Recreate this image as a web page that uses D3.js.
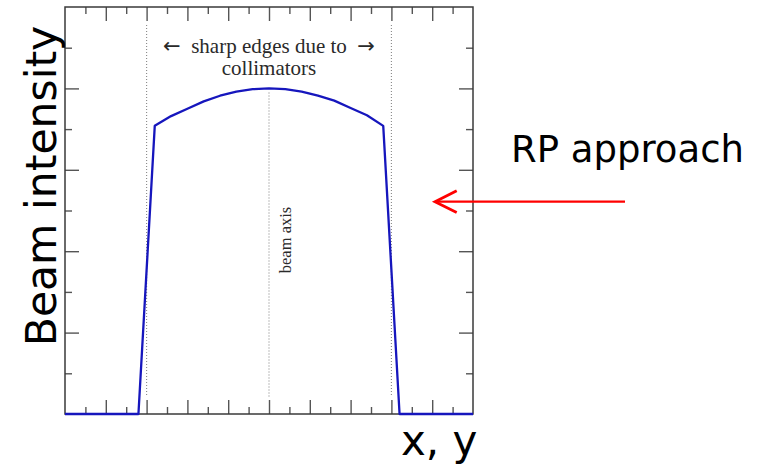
<!DOCTYPE html>
<html>
<head>
<meta charset="utf-8">
<script src="https://cdn.jsdelivr.net/npm/d3@7"></script>
<style>
  html, body { margin: 0; padding: 0; background: #fff; }
  svg { display: block; }
</style>
</head>
<body>
<svg id="chart" width="762" height="464"></svg>
<script>
// Transverse beam profile: flat top shaped by the beam, sharp edges cut by collimators.
const profileX = [-5, -3.2, -2.8, -2.4, -2.0, -1.6, -1.2, -0.8, -0.4, 0, 0.4, 0.8, 1.2, 1.6, 2.0, 2.4, 2.8, 3.2, 5];
const profileY = [0, 0, 3.54, 3.66, 3.75, 3.84, 3.91, 3.96, 3.99, 4.0, 3.99, 3.96, 3.91, 3.85, 3.76, 3.67, 3.54, 0, 0];

// Tick positions (no tick labels are drawn)
const xMajorTicks = [-4, -3, -2, -1, 0, 1, 2, 3, 4];
const xMinorTicks = [-4.5, -3.5, -2.5, -1.5, -0.5, 0.5, 1.5, 2.5, 3.5, 4.5];
const yMajorTicks = [1, 2, 3, 4];
const yMinorTicks = [0.5, 1.5, 2.5, 3.5, 4.5];

// Dotted guide lines: collimator edges and the beam axis
const guideX = [-3, 0, 3];
const guideTop = [4.78, 3.95, 4.78];
const guideBottom = [0.21, 0.21, 0.21];

const svg = d3.select("#chart");
const x = d3.scaleLinear().domain([-5, 5]).range([65, 473]);
const y = d3.scaleLinear().domain([0, 5]).range([414, 7]);

const tickColor = "#555";
const majorLen = 14, minorLen = 7;

function styleAxis(g) {
  g.select(".domain").remove();
  g.selectAll(".tick line").attr("stroke", tickColor).attr("stroke-width", 1.4);
  g.selectAll(".tick text").remove();
}

// Inward-pointing ticks on all four sides
[[xMajorTicks, majorLen], [xMinorTicks, minorLen]].forEach(([vals, len]) => {
  svg.append("g").attr("transform", `translate(0,${y(0)})`)
    .call(d3.axisBottom(x).tickValues(vals).tickSize(-len).tickFormat(""))
    .call(styleAxis);
  svg.append("g").attr("transform", `translate(0,${y(5)})`)
    .call(d3.axisTop(x).tickValues(vals).tickSize(-len).tickFormat(""))
    .call(styleAxis);
});
[[yMajorTicks, majorLen], [yMinorTicks, minorLen]].forEach(([vals, len]) => {
  svg.append("g").attr("transform", `translate(${x(-5)},0)`)
    .call(d3.axisLeft(y).tickValues(vals).tickSize(-len).tickFormat(""))
    .call(styleAxis);
  svg.append("g").attr("transform", `translate(${x(5)},0)`)
    .call(d3.axisRight(y).tickValues(vals).tickSize(-len).tickFormat(""))
    .call(styleAxis);
});

// Frame
svg.append("rect")
  .attr("x", x(-5)).attr("y", y(5))
  .attr("width", x(5) - x(-5)).attr("height", y(0) - y(5))
  .attr("fill", "none").attr("stroke", "#3a3a3a").attr("stroke-width", 1.5);

// Dotted guides
svg.append("g").selectAll("line").data(guideX).join("line")
  .attr("x1", d => x(d)).attr("x2", d => x(d))
  .attr("y1", (d, i) => y(guideTop[i])).attr("y2", (d, i) => y(guideBottom[i]))
  .attr("stroke", "#888").attr("stroke-width", 1.1)
  .attr("stroke-dasharray", "1,2");

// Beam profile (straight segments, sharp collimator corners)
const pts = profileX.map((v, i) => [v, profileY[i]]);
svg.append("path")
  .datum(pts)
  .attr("d", d3.line().x(d => x(d[0])).y(d => y(d[1])).curve(d3.curveLinear))
  .attr("fill", "none")
  .attr("stroke", "#1616bd")
  .attr("stroke-width", 2.3)
  .attr("stroke-linejoin", "round");

// Annotations inside the plot
const serif = "'Liberation Serif', 'DejaVu Serif', serif";
const arrowFont = "'DejaVu Sans', sans-serif";
const head = svg.append("text")
  .attr("x", x(0)).attr("y", 53)
  .attr("text-anchor", "middle")
  .attr("font-family", serif).attr("font-size", 21).attr("fill", "#2a2a2a");
head.append("tspan").attr("font-family", arrowFont).attr("font-size", 21).text("\u2190");
head.append("tspan").text("\u2002sharp edges due to\u2002");
head.append("tspan").attr("font-family", arrowFont).attr("font-size", 21).text("\u2192");
svg.append("text")
  .attr("x", x(0)).attr("y", 75)
  .attr("text-anchor", "middle")
  .attr("font-family", serif).attr("font-size", 21).attr("fill", "#2a2a2a")
  .text("collimators");
svg.append("text")
  .attr("transform", `translate(${x(0) + 22},240) rotate(-90)`)
  .attr("text-anchor", "middle")
  .attr("font-family", serif).attr("font-size", 16.5).attr("fill", "#2a2a2a")
  .text("beam axis");

// Axis titles
const sans = "'DejaVu Sans', sans-serif";
svg.append("text")
  .attr("transform", "translate(56,186) rotate(-90)")
  .attr("text-anchor", "middle")
  .attr("font-family", sans).attr("font-size", 42.5).attr("fill", "#000")
  .text("Beam intensity");
svg.append("text")
  .attr("x", 401).attr("y", 455)
  .attr("font-family", sans).attr("font-size", 42).attr("fill", "#000")
  .text("x, y");

// Roman Pot approach annotation
svg.append("text")
  .attr("x", 511).attr("y", 162)
  .attr("font-family", sans).attr("font-size", 37).attr("fill", "#000")
  .text("RP approach");
svg.append("line")
  .attr("x1", 625).attr("x2", 437).attr("y1", 201.7).attr("y2", 201.7)
  .attr("stroke", "#f00").attr("stroke-width", 2.2);
svg.append("path")
  .attr("d", "M456.7,190.7 L435,201.7 L456.7,212.5")
  .attr("fill", "none").attr("stroke", "#f00").attr("stroke-width", 2.8)
  .attr("stroke-linejoin", "miter");
</script>
</body>
</html>
